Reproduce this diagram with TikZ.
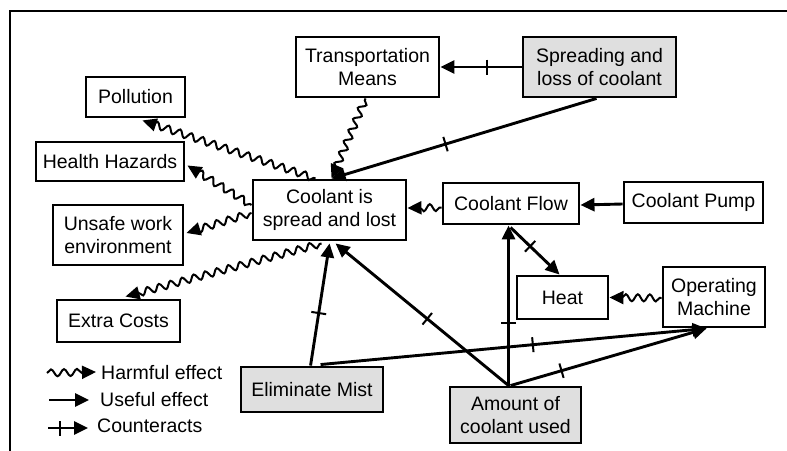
\documentclass[tikz,border=0pt]{standalone}
\usepackage{fontspec}
\setmainfont{Liberation Sans}
\usetikzlibrary{arrows.meta,decorations.pathmorphing,decorations.markings,calc}
\begin{document}
\begin{tikzpicture}[x=1pt,y=-1pt,
 box/.style={draw, line width=2.9pt, align=center, inner sep=0pt, font=\fontsize{19.5}{23}\selectfont},
 gbox/.style={box, fill=gray!25},
 tip/.style={-{Triangle[length=14pt,width=13pt]}},
 useful/.style={line width=2.9pt, tip},
 counter/.style={useful, postaction={decorate}, decoration={markings, mark=at position #1 with {\draw[line width=2pt,-] (0,-7.5pt) -- (0,7.5pt);}}},
 counter/.default=0.5,
 harm/.style={line width=2pt, tip, decorate, decoration={snake, amplitude=3.5pt, segment length=12pt, pre length=2pt, post length=10pt}},
 legend/.style={font=\fontsize{19.5}{23}\selectfont, anchor=west, inner sep=0pt}
]
\useasboundingbox (0,0) rectangle (787,450);
\fill[white] (0,0) rectangle (787,450);
\draw[line width=1.8pt] (10,455) -- (10,11) -- (795,11);

% nodes
\node[box, minimum width=143pt, minimum height=60pt] (trans) at (367.5,67) {Transportation\\Means};
\node[gbox, minimum width=153pt, minimum height=60pt] (spread) at (599.5,67) {Spreading and\\loss of coolant};
\node[box, minimum width=99pt, minimum height=40pt] (poll) at (135.5,97) {Pollution};
\node[box, minimum width=148pt, minimum height=39pt] (health) at (110,161.5) {Health Hazards};
\node[box, minimum width=153pt, minimum height=60pt] (cisl) at (329.5,210) {Coolant is\\spread and lost};
\node[box, minimum width=130pt, minimum height=60pt] (unsafe) at (118,235) {Unsafe work\\environment};
\node[box, minimum width=123pt, minimum height=42pt] (extra) at (118.5,321) {Extra Costs};
\node[box, minimum width=136pt, minimum height=41pt] (flow) at (511,203.5) {Coolant Flow};
\node[box, minimum width=139pt, minimum height=41pt] (pump) at (693.5,202.5) {Coolant Pump};
\node[box, minimum width=91pt, minimum height=43pt] (heat) at (562.5,297.5) {Heat};
\node[box, minimum width=102pt, minimum height=60pt] (opm) at (714,297) {Operating\\Machine};
\node[gbox, minimum width=142pt, minimum height=45pt] (elim) at (312,389.5) {Eliminate Mist};
\node[gbox, minimum width=131pt, minimum height=56pt] (amount) at (515.5,415) {Amount of\\coolant used};

% connectors
\draw[counter=0.43] (spread.west) -- (trans.east);
\draw[counter=0.57] ($(spread.south west)+(75,0)$) -- ($(cisl.north west)+(80,0)$);
\draw[harm] ($(trans.south west)+(71,0)$) -- ($(cisl.north west)+(80,0)$);
\draw[harm] ($(cisl.north west)+(64,0)$) -- ($(poll.south west)+(58,2)$);
\draw[harm] ($(cisl.west)+(0,-5)$) -- ($(health.east)+(2,4)$);
\draw[harm] ($(cisl.west)+(0,3)$) -- ($(unsafe.east)+(2,-2)$);
\draw[harm] ($(cisl.south west)+(70,2)$) -- ($(extra.north west)+(70,-2)$);
\draw[harm] ($(flow.west)+(0,4)$) -- ($(cisl.east)+(0,-2)$);
\draw[useful] ($(pump.west)+(0,1.5)$) -- ($(flow.east)+(0,1.5)$);
\draw[counter=0.39] ($(amount.north west)+(60,0)$) -- ($(flow.south west)+(67,0)$);
\draw[counter=0.4] ($(flow.south west)+(69,2)$) -- ($(heat.north west)+(44,0)$);
\draw[harm] ($(opm.west)+(0,1)$) -- ($(heat.east)+(0,0)$);
\draw[counter=0.47] ($(amount.north west)+(60,0)$) -- ($(cisl.south west)+(84,2)$);
\draw[counter=0.43] ($(elim.north west)+(71,0)$) -- ($(cisl.south west)+(78,2)$);
\draw[counter=0.55] ($(elim.north west)+(81,-1)$) -- ($(opm.south west)+(45,0)$);
\draw[counter=0.26] ($(amount.north west)+(62,0)$) -- ($(opm.south west)+(45,0)$);

% legend
\coordinate (h1) at (47,373); \coordinate (h2) at (96,372);
\coordinate (u1) at (49,400); \coordinate (u2) at (89,400);
\coordinate (c1) at (48,428); \coordinate (c2) at (88,428);
\draw[line width=2pt, tip, decorate, decoration={snake, amplitude=3.5pt, segment length=13pt, post length=11pt}] (h1) -- (h2);
\draw[useful] (u1) -- (u2);
\draw[counter=0.3] (c1) -- (c2);
\node[legend] (lh) at (101,373) {Harmful effect};
\node[legend] (lu) at (100,400) {Useful effect};
\node[legend] (lc) at (97,426) {Counteracts};
\end{tikzpicture}
\end{document}
